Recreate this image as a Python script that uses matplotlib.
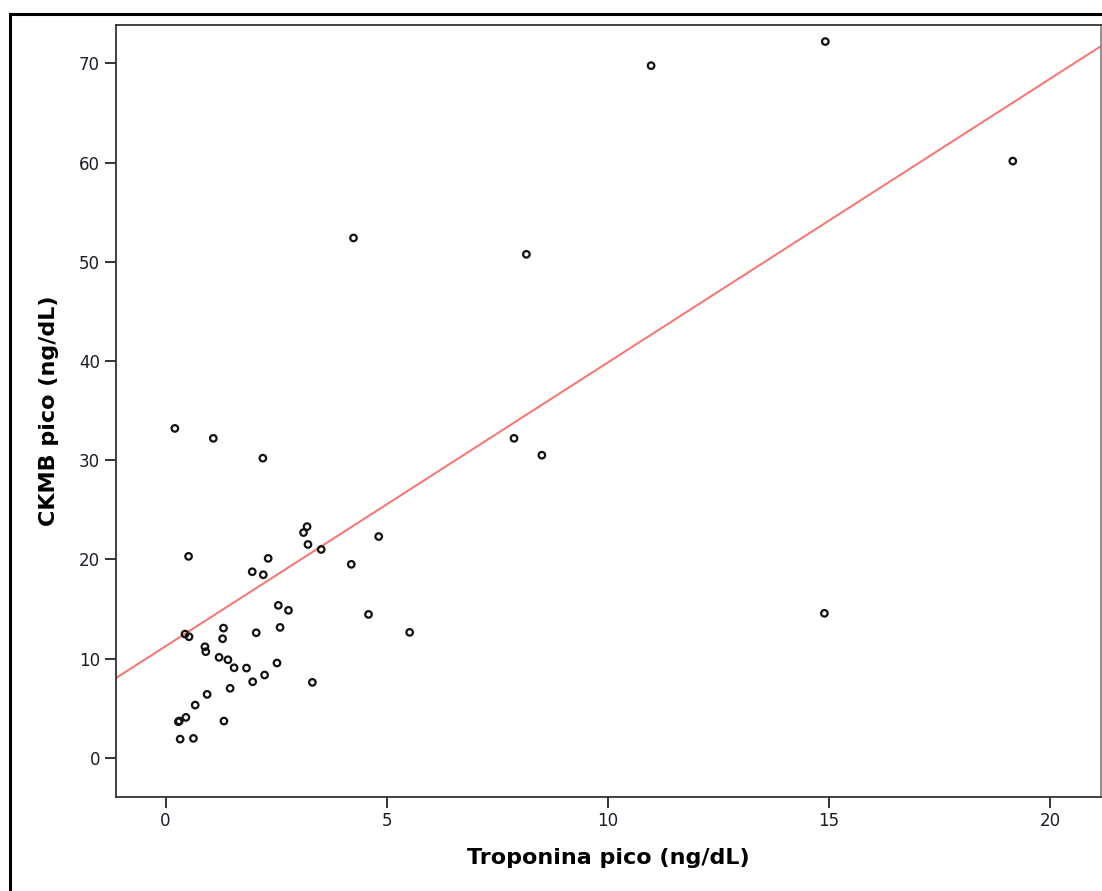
import numpy as np
import matplotlib
matplotlib.use("Agg")
import matplotlib.pyplot as plt
from matplotlib.lines import Line2D

# Troponina pico vs CKMB pico
troponina = [0.21, 1.08, 2.20, 7.88, 8.51, 3.20, 3.12, 3.22, 3.52, 4.82,
             0.52, 2.32, 1.96, 2.21, 4.20, 2.55, 2.78, 4.59, 5.52, 1.31,
             2.59, 0.44, 0.53, 1.29, 2.05, 0.89, 0.91, 1.21, 1.41, 1.55,
             1.83, 2.52, 2.24, 1.97, 3.32, 1.46, 0.94, 0.67, 0.46, 0.29,
             0.31, 1.32, 0.33, 0.63, 14.92, 10.98, 19.16, 4.25, 8.16, 14.90]
ckmb = [33.2, 32.2, 30.2, 32.2, 30.5, 23.3, 22.7, 21.5, 21.0, 22.3,
        20.3, 20.1, 18.75, 18.45, 19.5, 15.36, 14.86, 14.45, 12.64, 13.07,
        13.14, 12.47, 12.2, 12.0, 12.6, 11.19, 10.69, 10.12, 9.88, 9.07,
        9.04, 9.55, 8.34, 7.66, 7.6, 7.0, 6.39, 5.31, 4.07, 3.63,
        3.70, 3.7, 1.88, 1.95, 72.2, 69.77, 60.15, 52.4, 50.75, 14.56]

# fit line as shown in the chart
fit_intercept = 11.24
fit_slope = 2.86

x_ticks = [0, 5, 10, 15, 20]
y_ticks = [0, 10, 20, 30, 40, 50, 60, 70]
xlim = (-1.12, 21.16)
ylim = (-3.93, 73.9)

x = np.array(troponina)
y = np.array(ckmb)

fig = plt.figure(figsize=(11.02, 8.91), dpi=100)
ax = fig.add_axes([0.1053, 0.1058, 0.894, 0.8665])

ax.scatter(x, y, s=22, facecolors='none', edgecolors='#111111', linewidths=1.6, zorder=3)

xx = np.array(xlim)
ax.plot(xx, fit_intercept + fit_slope * xx, color='#f47a76', linewidth=1.5, zorder=2)

ax.set_xlim(*xlim)
ax.set_ylim(*ylim)
ax.set_xticks(x_ticks)
ax.set_yticks(y_ticks)
ax.tick_params(direction='out', length=8, width=1.4, color='#333333',
               labelsize=12, labelcolor='#1c1c2a')
ax.tick_params(axis='y', pad=3.5)
ax.tick_params(axis='x', pad=3)
for sp in ax.spines.values():
    sp.set_color('#333333')
    sp.set_linewidth(1.3)
ax.spines['right'].set_color('#888888')

ax.set_xlabel('Troponina pico (ng/dL)', fontsize=16, fontweight='bold', va='center')
ax.set_ylabel('CKMB pico (ng/dL)', fontsize=16, fontweight='bold', va='center')
ax.xaxis.set_label_coords(0.5, -0.0794)
ax.yaxis.set_label_coords(-0.068, 0.5)

# outer frame (left and top edges visible)
fig.add_artist(Line2D([9.5 / 1102, 9.5 / 1102], [0, 1 - 14 / 891], color='black', linewidth=2.2, transform=fig.transFigure))
fig.add_artist(Line2D([9.5 / 1102, 1], [1 - 14 / 891, 1 - 14 / 891], color='black', linewidth=2.2, transform=fig.transFigure))

fig.savefig('out.png', dpi=100)
